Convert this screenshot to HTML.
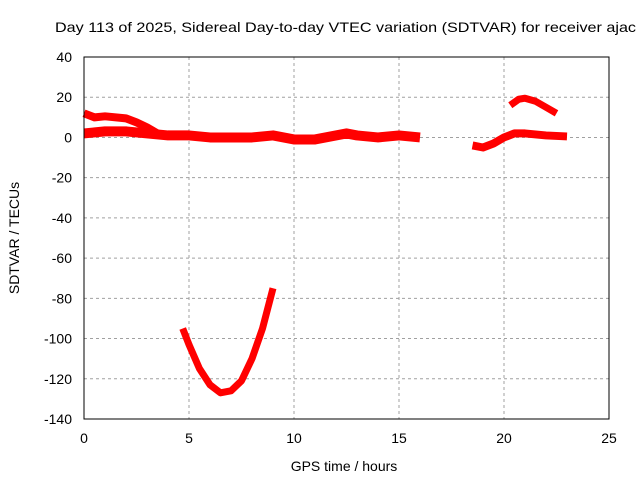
<!DOCTYPE html>
<html><head><meta charset="utf-8"><style>
body{margin:0;background:#fff}
svg text{font-family:"Liberation Sans",sans-serif;font-size:14px;fill:#000}
</style></head><body>
<svg id="c" width="640" height="480">
<text x="55" y="32" textLength="581" lengthAdjust="spacingAndGlyphs">Day 113 of 2025, Sidereal Day-to-day VTEC variation (SDTVAR) for receiver ajac</text>
<text x="344" y="471" text-anchor="middle">GPS time / hours</text>
<text transform="translate(19,238) rotate(-90)" text-anchor="middle">SDTVAR / TECUs</text>
<g id="grid"></g><g id="marks"></g>
<rect x="84" y="57" width="525" height="362" fill="none" stroke="#000"/>
</svg>
<script>
const xTicks=[0,5,10,15,20,25];
const yTicks=[40,20,0,-20,-40,-60,-80,-100,-120,-140];
const seriesUpper=[[0,12],[0.5,10],[1,10.5],[2,9.5],[2.5,7.5],[3,5],[3.5,2]];
const seriesMain=[[0,2],[1,3],[2,3],[3,2],[4,1],[5,1],[6,0],[7,0],[8,0],[9,1],[10,-1],[11,-1],[12,1],[12.5,2],[13,1],[14,0],[15,1],[16,0]];
const seriesDip=[[4.7,-95],[5,-103],[5.5,-115],[6,-123],[6.5,-127],[7,-126],[7.5,-121],[8,-110],[8.5,-95],[9,-75]];
const seriesLate=[[18.5,-4],[19,-5],[19.5,-3],[20,0],[20.5,2],[21,2],[22,1],[23,0.5]];
const seriesArc=[[20.3,16],[20.7,19],[21,19.5],[21.5,18],[22,15],[22.5,12]];
const X=v=>84+v*21, Y=v=>57+(40-v)*362/180;
const NS="http://www.w3.org/2000/svg";
const g=document.getElementById('grid'), m=document.getElementById('marks');
function el(t,a,p){const e=document.createElementNS(NS,t);for(const k in a)e.setAttribute(k,a[k]);p.appendChild(e);return e;}
xTicks.forEach(t=>{
 if(t>0&&t<25){const l=el('line',{x1:X(t),x2:X(t),y1:57,y2:419,stroke:'#a0a0a0','stroke-dasharray':'3,3'},g);
 
 }
 const tx=el('text',{x:X(t),y:443,'text-anchor':'middle'},g);tx.textContent=t;
 
 
});
yTicks.forEach(t=>{
 if(t<40&&t>-140){const l=el('line',{x1:84,x2:609,y1:Y(t),y2:Y(t),stroke:'#a0a0a0','stroke-dasharray':'3,3'},g);
 
 }
 const tx=el('text',{x:72,y:Y(t)+5,'text-anchor':'end'},g);tx.textContent=t;
 
 
});
[['upper',seriesUpper,8],['main',seriesMain,10],['dip',seriesDip,7],['late',seriesLate,8],['arc',seriesArc,7]].forEach(([n,s,w])=>{
 const p=el('polyline',{points:s.map(d=>X(d[0])+','+Y(d[1])).join(' '),fill:'none',stroke:'#f00','stroke-width':w,'stroke-linejoin':'round','stroke-linecap':'butt'},m);
 
 
});
</script>
</body></html>
